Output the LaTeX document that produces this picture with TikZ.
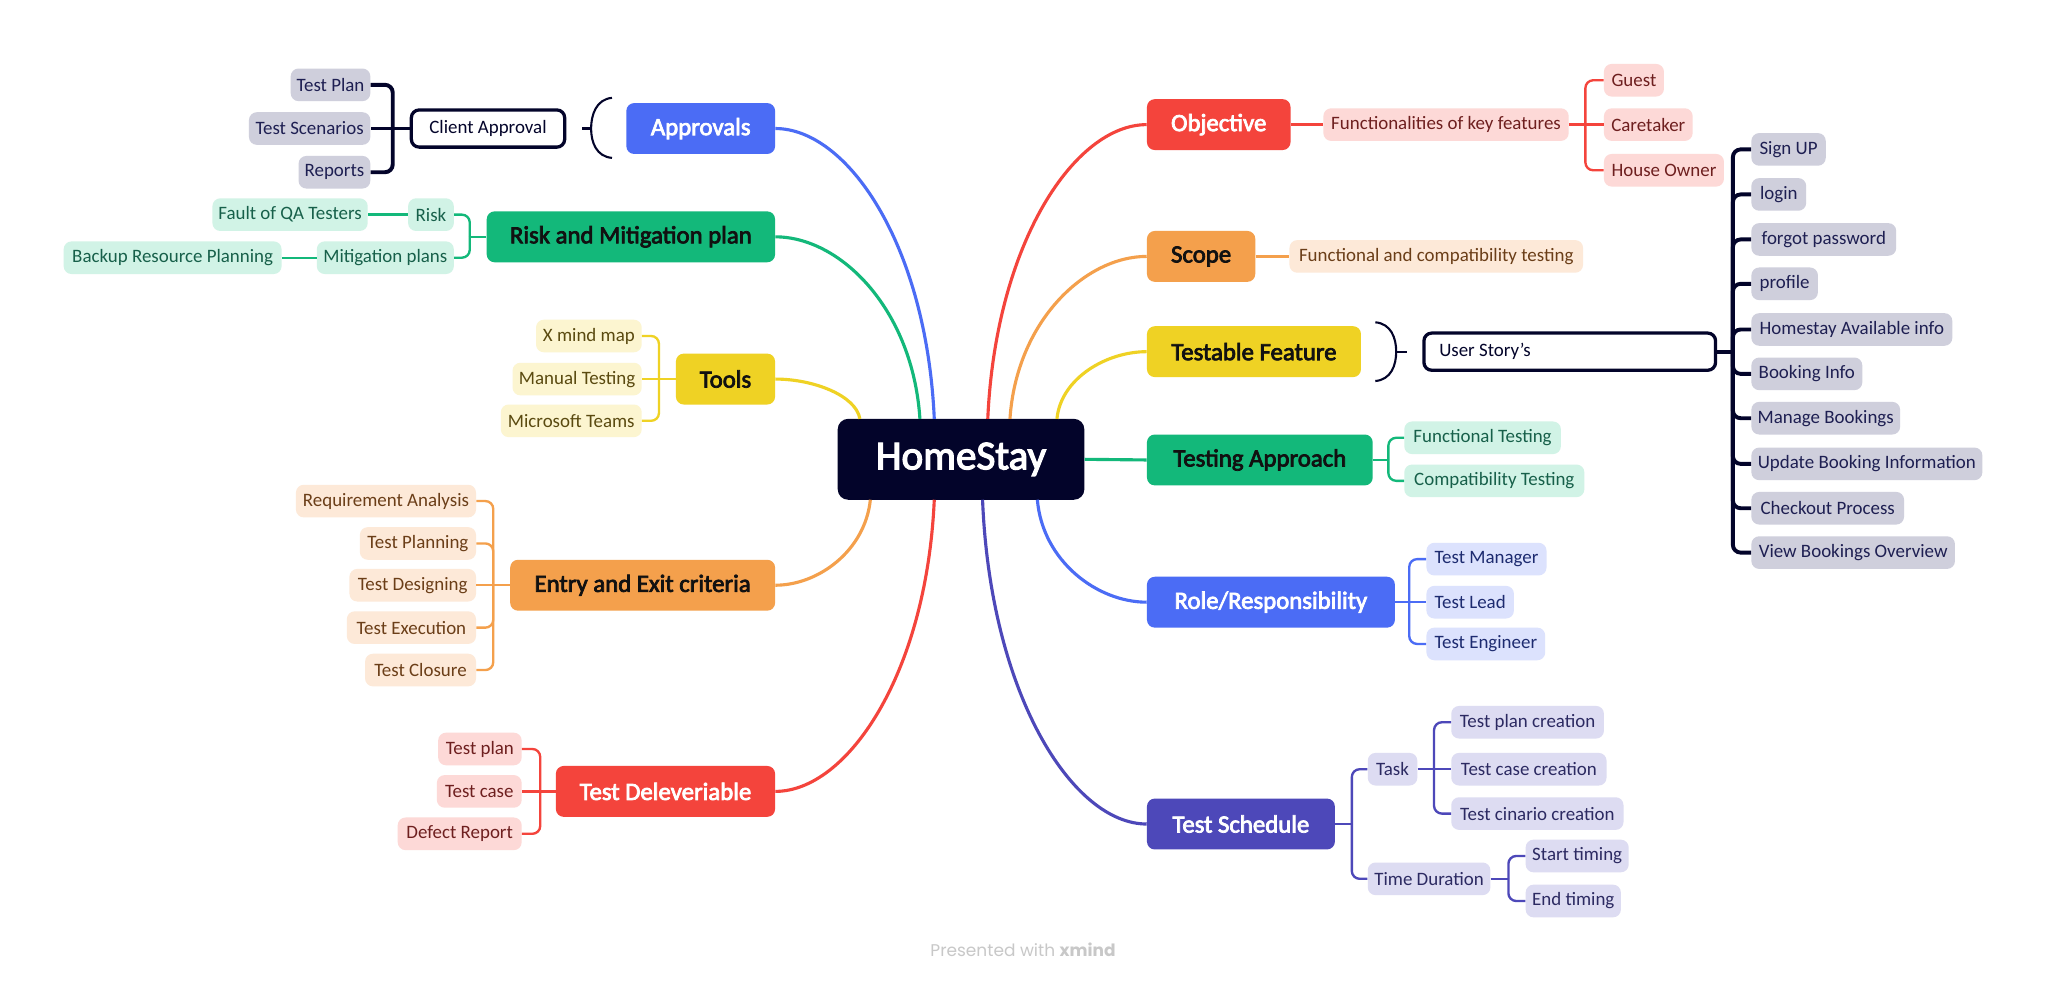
\documentclass[tikz,border=0pt]{standalone}
\usepackage{fontspec}
\setmainfont{Carlito}
\newfontfamily\topicfont{Carlito}[FakeBold=3]
\newfontfamily\footfont{Poppins}
\usetikzlibrary{calc}
\definecolor{cNavy}{HTML}{03042A}
\definecolor{cBlue}{HTML}{4B6CF5}
\definecolor{cGreen}{HTML}{13B87A}
\definecolor{cYellow}{HTML}{EFD224}
\definecolor{cOrange}{HTML}{F4A04C}
\definecolor{cRed}{HTML}{F4443C}
\definecolor{cIndigo}{HTML}{4D48B9}
\definecolor{lGray}{HTML}{CFCFDC}
\definecolor{lMint}{HTML}{D1F3E6}
\definecolor{lYellow}{HTML}{FCF5D0}
\definecolor{lPeach}{HTML}{FDE9D8}
\definecolor{lPink}{HTML}{FDD9D7}
\definecolor{lBlue}{HTML}{DCE2FD}
\definecolor{lIndigo}{HTML}{DDDCF2}
\definecolor{tGray}{HTML}{1E1F52}
\definecolor{tMint}{HTML}{17604A}
\definecolor{tYellow}{HTML}{5A4A10}
\definecolor{tPeach}{HTML}{6B3E18}
\definecolor{tPink}{HTML}{6E1F1F}
\definecolor{tBlue}{HTML}{1D2B70}
\definecolor{tIndigo}{HTML}{2C2A62}
\definecolor{tDark}{HTML}{111111}
\definecolor{cFoot}{HTML}{C8C8C8}
\tikzset{
  central/.style={fill=cNavy, text=white, rounded corners=8, minimum width=189, minimum height=62, inner sep=0pt, font=\topicfont\fontsize{31.5}{36}\selectfont},
  topic/.style={rounded corners=6, minimum height=39, inner sep=0pt, font=\topicfont\fontsize{19}{22}\selectfont},
  sub/.style={rounded corners=6, minimum height=25, inner sep=0pt, font=\fontsize{14.5}{17}\selectfont},
  gsub/.style={sub, fill=lGray, text=tGray},
  msub/.style={sub, fill=lMint, text=tMint},
  ysub/.style={sub, fill=lYellow, text=tYellow},
  osub/.style={sub, fill=lPeach, text=tPeach},
  rsub/.style={sub, fill=lPink, text=tPink},
  bsub/.style={sub, fill=lBlue, text=tBlue},
  isub/.style={sub, fill=lIndigo, text=tIndigo},
  framed/.style={draw=cNavy, line width=2.5, fill=white, rounded corners=6, minimum height=28.5, inner sep=0pt, text=cNavy, font=\fontsize{14.5}{17}\selectfont},
  trunk/.style={line width=2.4},
  twig/.style={line width=1.8},
  navyline/.style={draw=cNavy, line width=3},
  brace/.style={draw=cNavy, line width=1.6},
}
\begin{document}
\begin{tikzpicture}[x=1pt,y=-1pt]
\fill[white] (0,0) rectangle (1568,752);
\useasboundingbox (0,0) rectangle (1568,752);

% central
\node[central] (home) at (736.5,352) {HomeStay};

% main topics left
\node[topic, fill=cBlue, text=white, minimum width=114] (appr) at (537,98.5) {Approvals};
\node[topic, fill=cGreen, text=tDark, minimum width=221] (rm) at (483.5,181.5) {Risk and Mitigation plan};
\node[topic, fill=cYellow, text=tDark, minimum width=76] (tools) at (556,290.5) {Tools};
\node[topic, fill=cOrange, text=tDark, minimum width=203] (ent) at (492.5,448.5) {Entry and Exit criteria};
\node[topic, fill=cRed, text=white, minimum width=168] (del) at (510,606.5) {Test Deleveriable};

% main topics right
\node[topic, fill=cRed, text=white, minimum width=110] (obj) at (934,95.5) {Objective};
\node[topic, fill=cOrange, text=tDark, minimum width=83] (scope) at (920.5,196.5) {Scope};
\node[topic, fill=cYellow, text=tDark, minimum width=164] (tf) at (961,269.5) {Testable Feature};
\node[topic, fill=cGreen, text=tDark, minimum width=173] (tap) at (965.5,352.5) {Testing Approach};
\node[topic, fill=cBlue, text=white, minimum width=190] (role) at (974,461.5) {Role/Responsibility};
\node[topic, fill=cIndigo, text=white, minimum width=144] (sch) at (951,631.5) {Test Schedule};

% trunk connectors
\coordinate (hA) at (716,321);
\coordinate (hR) at (705,321);
\coordinate (hT) at (659,321);
\coordinate (hE) at (667,383);
\coordinate (hD) at (716,383);
\coordinate (hO) at (757,321);
\coordinate (hS) at (774,321);
\coordinate (hF) at (810,321);
\coordinate (hRo) at (795,383);
\coordinate (hSc) at (753,383);
\draw[trunk, cBlue] (hA) .. controls +(-6,-134) and +(55,0) .. (appr.east);
\draw[trunk, cGreen] (hR) .. controls +(-5.5,-84) and +(50,0) .. (rm.east);
\draw[trunk, cYellow] (hT) .. controls +(-3,-18) and +(29,0) .. (tools.east);
\draw[trunk, cOrange] (hE) .. controls +(-4,39) and +(33,0) .. (ent.east);
\draw[trunk, cRed] (hD) .. controls +(-6,134) and +(55,0) .. (del.east);
\draw[trunk, cRed] (hO) .. controls +(6,-135) and +(-55,0) .. (obj.west);
\draw[trunk, cOrange] (hS) .. controls +(5,-75) and +(-47,0) .. (scope.west);
\draw[trunk, cYellow] (hF) .. controls +(3,-31) and +(-31,0) .. (tf.west);
\draw[trunk, cGreen] (home.east) -- (tap.west);
\draw[trunk, cBlue] (hRo) .. controls +(4,47) and +(-38,0) .. (role.west);
\draw[trunk, cIndigo] (hSc) .. controls +(6,149) and +(-57,0) .. (sch.west);

% ---------- Approvals branch
\node[framed, minimum width=117.5] (ca) at (374,98.5) {Client Approval};
\draw[brace] (469,75) .. controls (457,76) and (453,88) .. (453,98.5) .. controls (453,109) and (457,120) .. (469,121);
\coordinate (apT) at (453,98.5);
\coordinate (apT2) at (446,98.5);
\draw[brace] (apT) -- (apT2);
\node[gsub, anchor=east, minimum width=61] (tplan) at (284,65) {Test Plan};
\node[gsub, anchor=east, minimum width=93] (tscen) at (284,98.5) {Test Scenarios};
\node[gsub, anchor=east, minimum width=55] (reps) at (284,132) {Reports};
\coordinate (caS) at (301,98.5);
\draw[navyline] (ca.west) -- (caS) -- (tscen.east);
\draw[navyline, rounded corners=6] (caS) |- (tplan.east);
\draw[navyline, rounded corners=6] (caS) |- (reps.east);

% ---------- Risk branch
\node[msub, anchor=east, minimum width=35] (risk) at (348,164.5) {Risk};
\node[msub, anchor=east, minimum width=105] (mitp) at (348,197.5) {Mitigation plans};
\node[msub, anchor=east, minimum width=119] (fqa) at (282,164.5) {Fault of QA Testers};
\node[msub, anchor=east, minimum width=167] (brp) at (216,197.5) {Backup Resource Planning};
\coordinate (rmS) at (360,181.5);
\draw[twig, cGreen] (rm.west) -- (rmS);
\draw[twig, cGreen, rounded corners=6] (rmS) |- (risk.east);
\draw[twig, cGreen, rounded corners=6] (rmS) |- (mitp.east);
\draw[twig, cGreen] (risk.west) -- (fqa.east);
\draw[twig, cGreen] (mitp.west) -- (brp.east);

% ---------- Tools branch
\node[ysub, anchor=east, minimum width=81] (xmm) at (492,257.5) {X mind map};
\node[ysub, anchor=east, minimum width=99] (mant) at (492,290.5) {Manual Testing};
\node[ysub, anchor=east, minimum width=108] (mst) at (492,322.5) {Microsoft Teams};
\coordinate (toS) at (505,290.5);
\draw[twig, cYellow] (tools.west) -- (toS) -- (mant.east);
\draw[twig, cYellow, rounded corners=6] (toS) |- (xmm.east);
\draw[twig, cYellow, rounded corners=6] (toS) |- (mst.east);

% ---------- Entry branch
\node[osub, anchor=east, minimum width=138] (ra) at (365,384) {Requirement Analysis};
\node[osub, anchor=east, minimum width=89] (tpl) at (365,416.5) {Test Planning};
\node[osub, anchor=east, minimum width=97] (tdes) at (365,448.5) {Test Designing};
\node[osub, anchor=east, minimum width=99] (texe) at (365,481) {Test Execution};
\node[osub, anchor=east, minimum width=85] (tclo) at (365,513.5) {Test Closure};
\coordinate (enS) at (378,448.5);
\draw[twig, cOrange] (ent.west) -- (enS) -- (tdes.east);
\draw[twig, cOrange, rounded corners=6] (enS) |- (ra.east);
\draw[twig, cOrange, rounded corners=6] (enS) |- (tpl.east);
\draw[twig, cOrange, rounded corners=6] (enS) |- (texe.east);
\draw[twig, cOrange, rounded corners=6] (enS) |- (tclo.east);

% ---------- Deliverable branch
\node[rsub, anchor=east, minimum width=64] (dtp) at (400,574) {Test plan};
\node[rsub, anchor=east, minimum width=65] (dtc) at (400,606.5) {Test case};
\node[rsub, anchor=east, minimum width=95] (ddr) at (400,639) {Defect Report};
\coordinate (deS) at (414,606.5);
\draw[twig, cRed] (del.west) -- (deS) -- (dtc.east);
\draw[twig, cRed, rounded corners=6] (deS) |- (dtp.east);
\draw[twig, cRed, rounded corners=6] (deS) |- (ddr.east);

% ---------- Objective branch
\node[rsub, anchor=west, minimum width=188] (fkf) at (1014,95.5) {Functionalities of key features};
\node[rsub, anchor=west, minimum width=46] (guest) at (1229,61.5) {Guest};
\node[rsub, anchor=west, minimum width=68] (care) at (1229,95.5) {Caretaker};
\node[rsub, anchor=west, minimum width=92] (hown) at (1229,130.5) {House Owner};
\draw[twig, cRed] (obj.east) -- (fkf.west);
\coordinate (obS) at (1215,95.5);
\draw[twig, cRed] (fkf.east) -- (obS) -- (care.west);
\draw[twig, cRed, rounded corners=6] (obS) |- (guest.west);
\draw[twig, cRed, rounded corners=6] (obS) |- (hown.west);

% ---------- Scope branch
\node[osub, anchor=west, minimum width=225] (fct) at (988,196.5) {Functional and compatibility testing};
\draw[twig, cOrange] (scope.east) -- (fct.west);

% ---------- Testable Feature branch
\draw[brace] (1054,247) .. controls (1066,248) and (1070,259) .. (1070,269.5) .. controls (1070,280) and (1066,291) .. (1054,292);
\node[framed, minimum width=223.5] (us) at (1203,269.5) {\makebox[200pt][l]{User Story's}};
\coordinate (tfT) at (1070,269.5);
\coordinate (tfT2) at (1078,269.5);
\draw[brace] (tfT) -- (tfT2);
\node[gsub, anchor=west, minimum width=57] (signup) at (1342,114.5) {Sign UP};
\node[gsub, anchor=west, minimum width=42] (login) at (1342,149) {login};
\node[gsub, anchor=west, minimum width=111] (forgot) at (1342,183.5) {forgot password};
\node[gsub, anchor=west, minimum width=51] (profile) at (1342,217.5) {profile};
\node[gsub, anchor=west, minimum width=154] (hsai) at (1342,252.5) {Homestay Available info};
\node[gsub, anchor=west, minimum width=85] (binfo) at (1342,286.5) {Booking Info};
\node[gsub, anchor=west, minimum width=114] (mbook) at (1342,320.5) {Manage Bookings};
\node[gsub, anchor=west, minimum width=177] (ubi) at (1342,355.5) {Update Booking Information};
\node[gsub, anchor=west, minimum width=117] (cop) at (1342,389.5) {Checkout Process};
\node[gsub, anchor=west, minimum width=156] (vbo) at (1342,423.5) {View Bookings Overview};
\coordinate (usS) at (1328,269.5);
\draw[navyline] (us.east) -- (usS);
\foreach \c in {signup,login,forgot,profile,hsai,binfo,mbook,ubi,cop,vbo}
  \draw[navyline, rounded corners=6] (usS) |- (\c.west);

% ---------- Testing Approach branch
\node[msub, anchor=west, minimum width=120] (ft) at (1076,335.5) {Functional Testing};
\node[msub, anchor=west, minimum width=138] (ct) at (1076,368.5) {Compatibility Testing};
\coordinate (taS) at (1064,352.5);
\draw[twig, cGreen] (tap.east) -- (taS);
\draw[twig, cGreen, rounded corners=6] (taS) |- (ft.west);
\draw[twig, cGreen, rounded corners=6] (taS) |- (ct.west);

% ---------- Role branch
\node[bsub, anchor=west, minimum width=92] (tm) at (1093,428.5) {Test Manager};
\node[bsub, anchor=west, minimum width=67] (tl) at (1093,461.5) {Test Lead};
\node[bsub, anchor=west, minimum width=91] (te) at (1093,493.5) {Test Engineer};
\coordinate (roS) at (1080,461.5);
\draw[twig, cBlue] (role.east) -- (roS) -- (tl.west);
\draw[twig, cBlue, rounded corners=6] (roS) |- (tm.west);
\draw[twig, cBlue, rounded corners=6] (roS) |- (te.west);

% ---------- Schedule branch
\node[isub, anchor=west, minimum width=38] (task) at (1048,589.5) {Task};
\node[isub, anchor=west, minimum width=94] (tdur) at (1048,673.5) {Time Duration};
\node[isub, anchor=west, minimum width=117] (tpc) at (1112,553.5) {Test plan creation};
\node[isub, anchor=west, minimum width=119] (tcc) at (1112,589.5) {Test case creation};
\node[isub, anchor=west, minimum width=132] (tcic) at (1112,623.5) {Test cinario creation};
\node[isub, anchor=west, minimum width=79] (stt) at (1169,656) {Start timing};
\node[isub, anchor=west, minimum width=73] (endt) at (1169,690.5) {End timing};
\coordinate (scS) at (1036,631.5);
\draw[twig, cIndigo] (sch.east) -- (scS);
\draw[twig, cIndigo, rounded corners=6] (scS) |- (task.west);
\draw[twig, cIndigo, rounded corners=6] (scS) |- (tdur.west);
\coordinate (taskS) at (1099,589.5);
\draw[twig, cIndigo] (task.east) -- (taskS) -- (tcc.west);
\draw[twig, cIndigo, rounded corners=6] (taskS) |- (tpc.west);
\draw[twig, cIndigo, rounded corners=6] (taskS) |- (tcic.west);
\coordinate (tdS) at (1156,673.5);
\draw[twig, cIndigo] (tdur.east) -- (tdS);
\draw[twig, cIndigo, rounded corners=6] (tdS) |- (stt.west);
\draw[twig, cIndigo, rounded corners=6] (tdS) |- (endt.west);

% footer
\node[font=\footfont\fontsize{13}{15}\selectfont, text=cFoot] (foot) at (784,728) {Presented with \textbf{xmind}};
\end{tikzpicture}
\end{document}
